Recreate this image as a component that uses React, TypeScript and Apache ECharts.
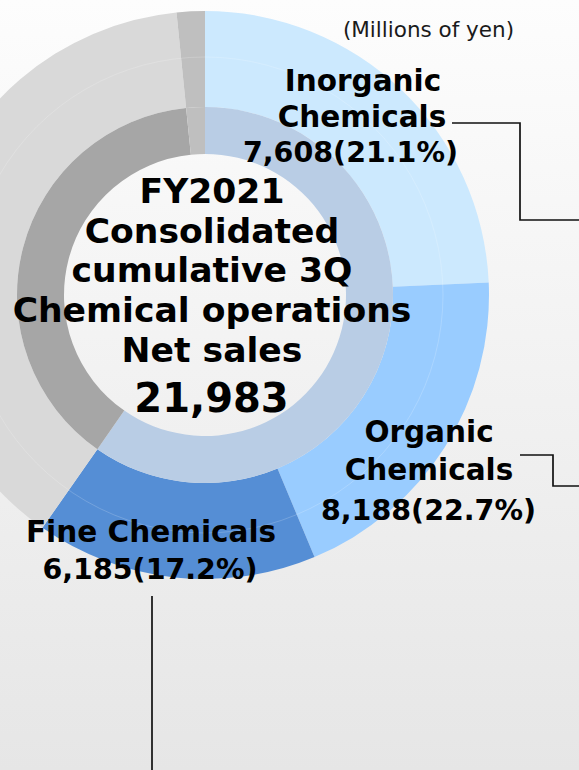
import React, { useEffect, useRef } from "react";
import * as echarts from "echarts";

// ---- data ----
// Outer ring: segment shares as drawn (percent of the full circle), clockwise from 12 o'clock
const outerNames = ["Inorganic Chemicals", "Organic Chemicals", "Fine Chemicals", "Other", "Other (small)"];
const outerShares = [24.3, 19.4, 16.0, 38.7, 1.6];
const outerColors = ["#CCE9FE", "#99CCFF", "#558ED5", "#D9D9D9", "#BFBFBF"];

// Inner ring: chemical operations vs the rest, as drawn
const innerNames = ["Chemical operations", "Other", "Other (small)"];
const innerShares = [59.7, 38.7, 1.6];
const innerColors = ["#B9CDE5", "#A6A6A6", "#BFBFBF"];

// Segment labels
const labelNameLines = [["Inorganic", "Chemicals"], ["Organic", "Chemicals"], ["Fine Chemicals"]];
const labelValues = [7608, 8188, 6185];
const labelPercents = [21.1, 22.7, 17.2];

// Centre text
const centerTitleLines = ["FY2021", "Consolidated", "cumulative 3Q", "Chemical operations", "Net sales"];
const centerTotal = 21983;
const unitText = "(Millions of yen)";

const FONT = '"DejaVu Sans", Verdana, sans-serif';

function txt(text: string, x: number, y: number, size: number, bold = true, z = 30) {
  return {
    type: "text",
    z,
    silent: true,
    style: {
      text,
      x,
      y,
      fill: bold ? "#000000" : "#1a1a1a",
      fontSize: size,
      fontWeight: bold ? "bold" : "normal",
      fontFamily: FONT,
      align: "center",
      verticalAlign: "middle",
      textAlign: "center",
      textVerticalAlign: "middle",
    },
  };
}

export default function App() {
  const ref = useRef<HTMLDivElement>(null);

  useEffect(() => {
    if (!ref.current) return;
    const chart = echarts.init(ref.current, undefined, { renderer: "svg" });

    const cx = 205;
    const cy = 295;

    const valueText = (i: number) =>
      labelValues[i].toLocaleString("en-US") + "(" + labelPercents[i].toFixed(1) + "%)";

    // label layout (positions only)
    const nameSize = 29.5;
    const valueSize = 28.5;
    const labelLayout = [
      { names: [[363, 81], [362, 117]], value: [350.5, 152] },
      { names: [[429, 432], [429, 470]], value: [428.5, 510] },
      { names: [[151, 532]], value: [150, 569] },
    ];

    const graphics: any[] = [];

    // faint seam circle inside the outer ring
    graphics.push({
      type: "circle",
      z: 10,
      silent: true,
      shape: { cx, cy, r: 238 },
      style: { fill: "none", stroke: "rgba(255,255,255,0.18)", lineWidth: 1 },
    });

    // unit
    graphics.push(txt(unitText, 428.5, 29, 21.5, false));

    // centre title
    const titleMiddles = [191, 231, 270, 310, 350];
    centerTitleLines.forEach((line, i) => {
      graphics.push(txt(line, 212, titleMiddles[i], 34.6));
    });
    graphics.push(txt(centerTotal.toLocaleString("en-US"), 211.5, 398, 40));

    // segment labels
    labelNameLines.forEach((lines, i) => {
      lines.forEach((line, j) => {
        const p = labelLayout[i].names[j];
        graphics.push(txt(line, p[0], p[1], nameSize));
      });
      const v = labelLayout[i].value;
      graphics.push(txt(valueText(i), v[0], v[1], valueSize));
    });

    // leader lines
    const leaders = [
      [[452, 123], [520, 123], [520, 220], [590, 220]],
      [[520, 455], [553, 455], [553, 486], [590, 486]],
      [[152, 596], [152, 780]],
    ];
    leaders.forEach((pts) => {
      graphics.push({
        type: "polyline",
        z: 30,
        silent: true,
        shape: { points: pts },
        style: { stroke: "#111111", lineWidth: 1.7, fill: "none" },
      });
    });

    const common = {
      type: "pie",
      center: [cx, cy],
      startAngle: 90,
      clockwise: true,
      silent: true,
      avoidLabelOverlap: false,
      label: { show: false },
      labelLine: { show: false },
      emphasis: { disabled: true },
      itemStyle: { borderWidth: 0 },
    };

    chart.setOption({
      animation: false,
      backgroundColor: new echarts.graphic.LinearGradient(0, 0, 0, 1, [
        { offset: 0, color: "#FDFDFD" },
        { offset: 1, color: "#E6E6E6" },
      ]),
      series: [
        {
          ...common,
          name: "outer",
          radius: [188, 284],
          data: outerNames.map((n, i) => ({
            name: n,
            value: outerShares[i],
            itemStyle: { color: outerColors[i] },
          })),
        },
        {
          ...common,
          name: "inner",
          radius: [141, 188],
          data: innerNames.map((n, i) => ({
            name: n,
            value: innerShares[i],
            itemStyle: { color: innerColors[i] },
          })),
        },
      ],
      graphic: { elements: graphics },
    });

    return () => chart.dispose();
  }, []);

  return (
    <div
      ref={ref}
      style={{ position: "absolute", left: 0, top: 0, width: 579, height: 770 }}
    />
  );
}
